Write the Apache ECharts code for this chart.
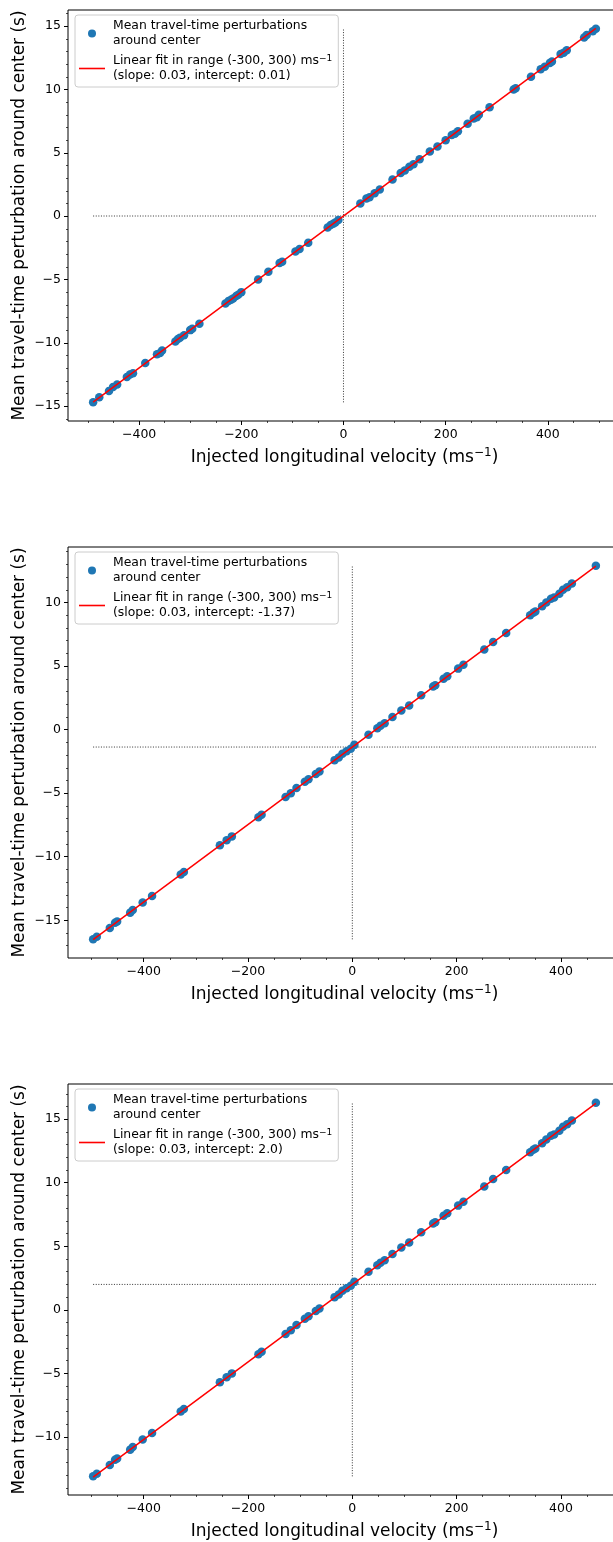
<!DOCTYPE html>
<html>
<head>
<meta charset="utf-8">
<script src="https://cdn.jsdelivr.net/npm/echarts@6/dist/echarts.min.js"></script>
<style>
html, body { margin: 0; padding: 0; background: #fff; }
#main { width: 613px; height: 1542px; }
</style>
</head>
<body>
<div id="main"></div>
<script>
// ---- data (velocity ms-1, perturbation s) ----
var pointsTop = [
    [-490,-14.7],[-478,-14.3],[-459,-13.8],[-451,-13.5],[-443,-13.3],[-424,-12.7],[-418,-12.5],[-412,-12.4],
    [-388,-11.6],[-365,-10.9],[-359,-10.8],[-355,-10.6],[-329,-9.9],[-324,-9.7],[-320,-9.6],[-312,-9.4],
    [-300,-9.0],[-296,-8.9],[-282,-8.5],[-231,-6.9],[-225,-6.7],[-220,-6.6],[-216,-6.5],[-210,-6.3],
    [-206,-6.2],[-200,-6.0],[-167,-5.0],[-147,-4.4],[-125,-3.7],[-120,-3.6],[-94,-2.8],[-86,-2.6],
    [-69,-2.1],[-31,-0.9],[-25,-0.7],[-20,-0.6],[-16,-0.5],[-10,-0.3],[33,1.0],[45,1.4],
    [51,1.5],[61,1.8],[71,2.1],[96,2.9],[112,3.4],[120,3.6],[129,3.9],[137,4.1],
    [149,4.5],[169,5.1],[184,5.5],[200,6.0],[212,6.4],[218,6.5],[224,6.7],[243,7.3],
    [255,7.7],[261,7.8],[265,8.0],[286,8.6],[333,10.0],[337,10.1],[367,11.0],[386,11.6],
    [394,11.8],[404,12.1],[408,12.2],[425,12.8],[431,12.9],[437,13.1],[471,14.1],[476,14.3],
    [488,14.6],[494,14.8]
];
var pointsMid = [
    [-497,-16.5],[-490,-16.3],[-465,-15.6],[-455,-15.2],[-451,-15.1],[-426,-14.4],[-421,-14.2],[-402,-13.6],
    [-384,-13.1],[-329,-11.4],[-323,-11.2],[-254,-9.1],[-241,-8.7],[-231,-8.4],[-180,-6.9],[-174,-6.7],
    [-128,-5.3],[-118,-5.0],[-107,-4.6],[-91,-4.1],[-84,-3.9],[-70,-3.5],[-63,-3.3],[-34,-2.4],
    [-26,-2.2],[-19,-1.9],[-11,-1.7],[-3,-1.5],[4,-1.2],[31,-0.4],[48,0.1],[54,0.3],
    [62,0.5],[77,1.0],[94,1.5],[109,1.9],[132,2.7],[155,3.4],[159,3.5],[175,4.0],
    [182,4.2],[203,4.8],[213,5.1],[253,6.3],[270,6.9],[295,7.6],[341,9.0],[347,9.2],
    [351,9.3],[364,9.7],[372,10.0],[381,10.3],[387,10.4],[397,10.7],[404,11.0],[412,11.2],
    [421,11.5],[467,12.9]
];
var pointsBot = [
    [-497,-13.1],[-490,-12.9],[-465,-12.2],[-455,-11.8],[-451,-11.7],[-426,-11.0],[-421,-10.8],[-402,-10.2],
    [-384,-9.7],[-329,-8.0],[-323,-7.8],[-254,-5.7],[-241,-5.3],[-231,-5.0],[-180,-3.5],[-174,-3.3],
    [-128,-1.9],[-118,-1.6],[-107,-1.2],[-91,-0.7],[-84,-0.5],[-70,-0.1],[-63,0.1],[-34,1.0],
    [-26,1.2],[-19,1.5],[-11,1.7],[-3,1.9],[4,2.2],[31,3.0],[48,3.5],[54,3.7],
    [62,3.9],[77,4.4],[94,4.9],[109,5.3],[132,6.1],[155,6.8],[159,6.9],[175,7.4],
    [182,7.6],[203,8.2],[213,8.5],[253,9.7],[270,10.3],[295,11.0],[341,12.4],[347,12.6],
    [351,12.7],[364,13.1],[372,13.4],[381,13.7],[387,13.8],[397,14.1],[404,14.4],[412,14.6],
    [421,14.9],[467,16.3]
];
// fitted lines (ends at first and last injected velocity)
var fitTop = [[-490,-14.69],[494,14.83]];
var fitMid = [[-497,-16.53],[467,12.87]];
var fitBot = [[-497,-13.16],[467,16.24]];
var intercepts = [0.01, -1.37, 2.0];

var xTicks = [-400, -200, 0, 200, 400];
var yTicksTop = [-15, -10, -5, 0, 5, 10, 15];
var yTicksMid = [-15, -10, -5, 0, 5, 10];
var yTicksBot = [-10, -5, 0, 5, 10, 15];

var scatterName = 'Mean travel-time perturbations\naround center';
var fitNames = [
    'Linear fit in range (-300, 300) ms{sup|\u22121}\n(slope: 0.03, intercept: 0.01)',
    'Linear fit in range (-300, 300) ms{sup|\u22121}\n(slope: 0.03, intercept: -1.37)',
    'Linear fit in range (-300, 300) ms{sup|\u22121}\n(slope: 0.03, intercept: 2.0)'
];

var panels = [
    {pts: pointsTop, fit: fitTop, yTicks: yTicksTop},
    {pts: pointsMid, fit: fitMid, yTicks: yTicksMid},
    {pts: pointsBot, fit: fitBot, yTicks: yTicksBot}
];
var tops = [10, 547, 1084];
var FONT = 'DejaVu Sans';

function minus(v) {
    return String(v).replace('-', '\u2212');
}

function extent(arr, k) {
    var lo = Infinity, hi = -Infinity;
    arr.forEach(function (p) { lo = Math.min(lo, p[k]); hi = Math.max(hi, p[k]); });
    return [lo, hi];
}

function minorTicks(lo, hi, step) {
    var out = [];
    for (var v = Math.ceil(lo / step) * step; v <= hi; v += step) out.push(v);
    return out;
}

var option = {
    animation: false,
    backgroundColor: '#fff',
    grid: [], xAxis: [], yAxis: [], series: [], legend: []
};

panels.forEach(function (p, i) {
    var xe = extent(p.pts, 0), ye = extent(p.pts, 1);
    // matplotlib style 5% margins
    var xm = (xe[1] - xe[0]) * 0.05, ym = (ye[1] - ye[0]) * 0.05;
    var xMin = xe[0] - xm, xMax = xe[1] + xm, yMin = ye[0] - ym, yMax = ye[1] + ym;
    var tickStyle = {color: '#000', width: 1};
    var noLine = {show: false, onZero: false};

    option.grid.push({
        left: 68, top: tops[i], width: 553, height: 411, outerBoundsMode: 'none',
        show: true, borderColor: '#000', borderWidth: 1, backgroundColor: 'transparent'
    });

    // major x axis
    option.xAxis.push({
        type: 'value', gridIndex: i, position: 'bottom', min: xMin, max: xMax,
        axisLine: noLine, splitLine: {show: false},
        axisTick: {customValues: xTicks, length: 4, lineStyle: tickStyle},
        axisLabel: {customValues: xTicks, formatter: minus, color: '#000', fontSize: 12.5, fontFamily: FONT, margin: 7},
        name: 'Injected longitudinal velocity (ms{sup|\u22121})', nameLocation: 'middle', nameGap: 26,
        nameMoveOverlap: false,
        nameTextStyle: {
            color: '#000', fontSize: 17, fontFamily: FONT, lineHeight: 22,
            rich: {sup: {fontSize: 12, fontFamily: FONT, color: '#000', verticalAlign: 'top', lineHeight: 12}}
        }
    });
    // minor x ticks
    option.xAxis.push({
        type: 'value', gridIndex: i, position: 'bottom', min: xMin, max: xMax,
        axisLine: noLine, splitLine: {show: false}, axisLabel: {show: false},
        axisTick: {customValues: minorTicks(xMin, xMax, 50), length: 2, lineStyle: {color: '#000', width: 0.7}}
    });
    option.yAxis.push({
        type: 'value', gridIndex: i, position: 'left', min: yMin, max: yMax,
        axisLine: noLine, splitLine: {show: false},
        axisTick: {customValues: p.yTicks, length: 4, lineStyle: tickStyle},
        axisLabel: {customValues: p.yTicks, formatter: minus, color: '#000', fontSize: 12.5, fontFamily: FONT, margin: 7},
        name: 'Mean travel-time perturbation around center (s)', nameLocation: 'middle', nameGap: 40,
        nameMoveOverlap: false,
        nameTextStyle: {color: '#000', fontSize: 17, fontFamily: FONT}
    });
    option.yAxis.push({
        type: 'value', gridIndex: i, position: 'left', min: yMin, max: yMax,
        axisLine: noLine, splitLine: {show: false}, axisLabel: {show: false},
        axisTick: {customValues: minorTicks(yMin, yMax, 1), length: 2, lineStyle: {color: '#000', width: 0.7}}
    });

    var ax = 2 * i;
    var dotted = {color: '#000', width: 0.8, type: [1, 1.6]};
    option.series.push({
        type: 'line', xAxisIndex: ax, yAxisIndex: ax, symbol: 'none', silent: true, z: 1,
        data: [[0, ye[0]], [0, ye[1]]], lineStyle: dotted
    });
    option.series.push({
        type: 'line', xAxisIndex: ax, yAxisIndex: ax, symbol: 'none', silent: true, z: 1,
        data: [[xe[0], intercepts[i]], [xe[1], intercepts[i]]], lineStyle: dotted
    });
    option.series.push({
        name: scatterName, type: 'scatter', xAxisIndex: ax, yAxisIndex: ax, z: 2,
        symbol: 'circle', symbolSize: 8.5, itemStyle: {color: '#1f77b4', opacity: 1},
        data: p.pts
    });
    option.series.push({
        name: fitNames[i], type: 'line', xAxisIndex: ax, yAxisIndex: ax, z: 3,
        symbol: 'none', lineStyle: {color: '#ff0000', width: 1.5}, itemStyle: {color: '#ff0000'},
        data: p.fit
    });

    option.legend.push({
        left: 75, top: tops[i] + 5, orient: 'vertical', selectedMode: false,
        data: [
            {name: scatterName, icon: 'circle'},
            {name: fitNames[i], icon: 'path://M0 0H26V1.6H0Z'}
        ],
        itemWidth: 26, itemHeight: 8, itemGap: 6,
        padding: [4, 6, 4, 4],
        borderColor: '#cccccc', borderWidth: 1, borderRadius: 3,
        backgroundColor: 'rgba(255,255,255,0.8)',
        textStyle: {
            color: '#000', fontSize: 12.4, lineHeight: 14.5, fontFamily: FONT, padding: [0, 0, 0, 3],
            rich: {sup: {fontSize: 9, fontFamily: FONT, color: '#000', verticalAlign: 'top', lineHeight: 9}}
        }
    });
});

var chart = echarts.init(document.getElementById('main'));
chart.setOption(option);
</script>
</body>
</html>
